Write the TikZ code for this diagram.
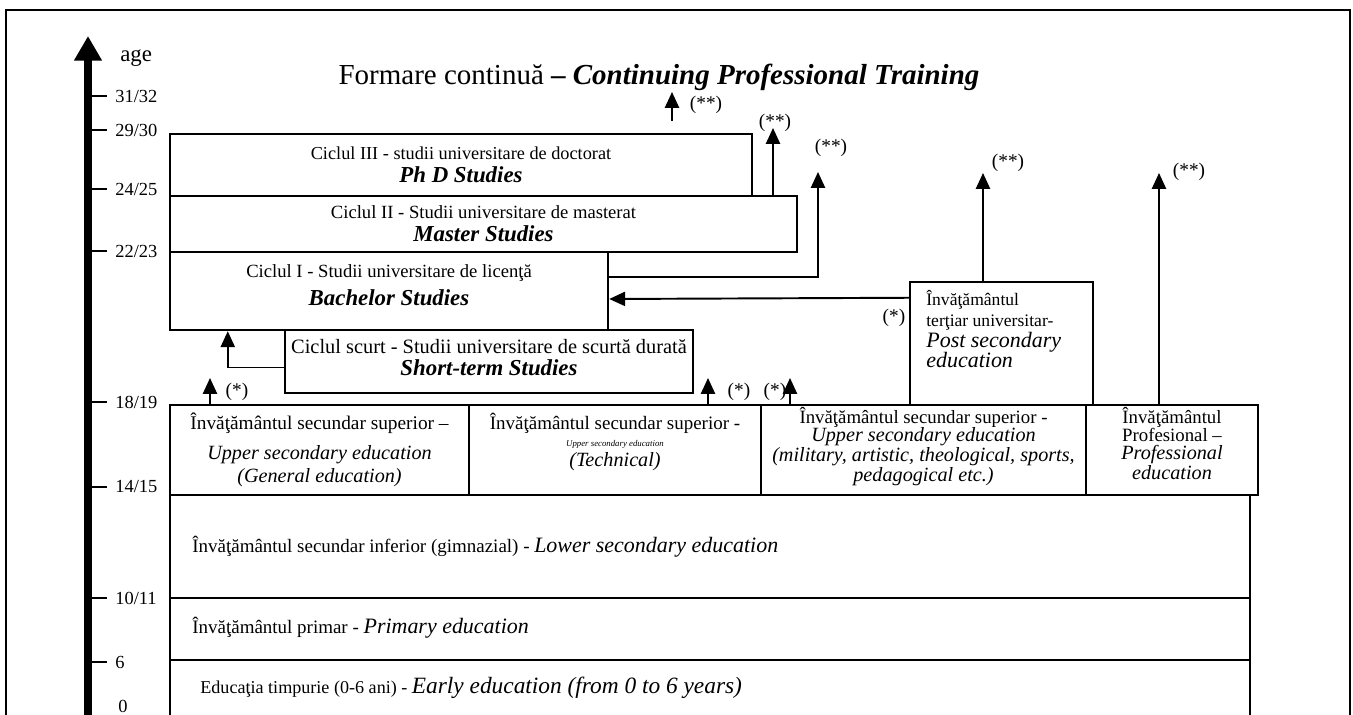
\documentclass[tikz,border=0pt]{standalone}
\usepackage{fontspec}
\setmainfont{Liberation Serif}
\usetikzlibrary{arrows.meta,fit,calc,positioning}

\newcommand{\fs}[2]{\fontsize{#1}{#2}\selectfont}
\newcommand{\engbf}[1]{{\fontsize{13}{15}\selectfont\bfseries\itshape #1}}
\newcommand{\engit}[1]{{\fontsize{12.5}{14}\selectfont\itshape #1}}

\tikzset{
  box/.style={draw, line width=1.4pt, inner sep=0pt},
  lowbox/.style={draw, line width=1.1pt, inner sep=0pt},
  txt/.style={align=center, inner sep=0pt, font=\fontsize{10.6}{13}\selectfont},
  arr/.style={line width=1.1pt, -{Triangle[width=8pt,length=9pt]}},
  note/.style={inner sep=0pt, font=\fontsize{11}{12}\selectfont},
  agelbl/.style={inner sep=0pt, anchor=west, font=\fontsize{10.5}{12}\selectfont},
}

\begin{document}
\begin{tikzpicture}[x=0.02cm,y=-0.02cm]
\useasboundingbox (0,0) rectangle (1353,715);
% frame
\draw[line width=0.6pt] (6,730) -- (6,10) -- (1350,10) -- (1350,730);

% age axis
\draw[line width=4.5pt,-{Triangle[width=15pt,length=14pt]}] (88,730) -- (88,36);
\node[agelbl, font=\fontsize{13}{14}\selectfont] (age) at (120,58) {age};
\foreach \y/\t in {96/{31/32},130/{29/30},189/{24/25},251/{22/23},402/{18/19},487/{14/15},598/{10/11},662/6}{
  \draw[line width=1.3pt] (91,\y) -- (107,\y);
  \node[agelbl] at (115,\y) {\t};
}
\node[agelbl] at (118,706) {0};

\node[font=\fontsize{16.5}{18}\selectfont] (title) at (659,77) {Formare continuă \textbf{– \textit{Continuing Professional Training}}};

% university cycles
\node[box, fit={(170,134) (752,196)}] (phd) {};
\node[box, fit={(170,196) (797,252)}] (master) {};
\node[box, fit={(170,252) (608,330)}] (bach) {};
\node[box, fit={(285,330) (693,393)}] (short) {};
\node[box, fit={(910,282) (1093,405)}] (post) {};
\node[txt, font=\fs{10.4}{13}] at (phd.center) {Ciclul III - studii universitare de doctorat\\[0pt] \engbf{Ph D Studies}};
\node[txt] at (master.center) {Ciclul II - Studii universitare de masterat\\[0pt] \engbf{Master Studies}};
\node[txt] at ($(bach.center)+(0,-6)$) {Ciclul I - Studii universitare de licenţă\\[3pt] \engbf{Bachelor Studies}};
\node[txt, font=\fs{11.6}{13}] at ($(short.center)+(0,-4)$) {Ciclul scurt - Studii universitare de scurtă durată\\[0pt] \engbf{Short-term Studies}};
\node[txt, align=left, anchor=west, font=\fs{10}{12}] at (926,329) {Învăţământul\\ terţiar universitar-\\[0pt] \engit{Post secondary}\\[-1pt] \engit{education}};

% upper secondary
\node[box, fit={(170,405) (469,495)}] (gen) {};
\node[box, fit={(469,405) (761,495)}] (tech) {};
\node[box, fit={(761,405) (1086,495)}] (mil) {};
\node[box, fit={(1086,405) (1258,495)}] (prof) {};
\node[txt, anchor=north, font=\fs{11}{13}] at ($(gen.north)+(0,9)$) {Învăţământul secundar superior –\\[4pt] {\fs{11.5}{13}\itshape Upper secondary education}\\[0pt] {\fs{11.5}{13}\itshape (General education)}};
\node[txt, anchor=north, font=\fs{10.8}{13}] at ($(tech.north)+(0,9)$) {Învăţământul secundar superior -\\[-3pt] {\fs{5}{6}\itshape Upper secondary education}\\[-2pt] {\fs{11.5}{13}\itshape (Technical)}};
\node[txt, anchor=north, font=\fs{10.7}{10.4}] at ($(mil.north)+(0,3)$) {Învăţământul secundar superior -\\ {\fs{11.5}{10.4}\itshape Upper secondary education}\\ {\fs{11.5}{10.4}\itshape (military, artistic, theological, sports,}\\ {\fs{11.5}{10.4}\itshape pedagogical etc.)}};
\node[txt, anchor=north, font=\fs{10.7}{10.4}] at ($(prof.north)+(0,3)$) {Învăţământul\\ Profesional –\\ {\fs{11.5}{10.4}\itshape Professional}\\ {\fs{11.5}{10.4}\itshape education}};

% compulsory and early education
\node[lowbox, fit={(170,495) (1250,598)}] (lower) {};
\node[lowbox, fit={(170,598) (1250,660)}] (prim) {};
\node[lowbox, fit={(170,660) (1250,740)}] (early) {};
\node[txt, anchor=west, font=\fs{10.8}{13}] at (192,547) {Învăţământul secundar inferior (gimnazial) - \engit{Lower secondary education}};
\node[txt, anchor=west, font=\fs{10.8}{13}] at (192,628) {Învăţământul primar - \engit{Primary education}};
\node[txt, anchor=west, font=\fs{10.3}{13}] at (200,688) {Educaţia timpurie (0-6 ani) - {\fs{13.3}{14}\itshape Early education (from 0 to 6 years)}};

% connectors
\draw[arr] ($(short.west)+(0,6)$) -| ($(bach.south west)+(59,0)$);
\coordinate (tipB) at (818,172);
\draw[arr] ($(bach.east)+(0,-14)$) -| (tipB);
\draw[arr] ($(post.north west)+(0,17)$) -- ($(bach.east)+(0,8)$);
\coordinate (tipM) at (773,128);
\draw[arr] (tipM |- master.north) -- (tipM);
\coordinate (cfA) at (672,121);
\coordinate (cfB) at (672,92);
\draw[arr] (cfA) -- (cfB);
\coordinate (tipP) at (983,173);
\draw[arr] (tipP |- post.north) -- (tipP);
\coordinate (tipR) at (1159,173);
\draw[arr] (tipR |- prof.north) -- (tipR);
\foreach \x/\n in {210/gen,708/tech,790/mil}
  \draw[arr] (\x,0 |- \n.north) -- (\x,378);

% notes
\node[note] at (237,392) {(*)};
\node[note] at (739,392) {(*)};
\node[note] at (775,392) {(*)};
\node[note] at (894,318) {(*)};
\node[note] at (706,105) {(**)};
\node[note] at (775,123) {(**)};
\node[note] at (831,148) {(**)};
\node[note] at (1008,163) {(**)};
\node[note] at (1189,172) {(**)};
\end{tikzpicture}
\end{document}
